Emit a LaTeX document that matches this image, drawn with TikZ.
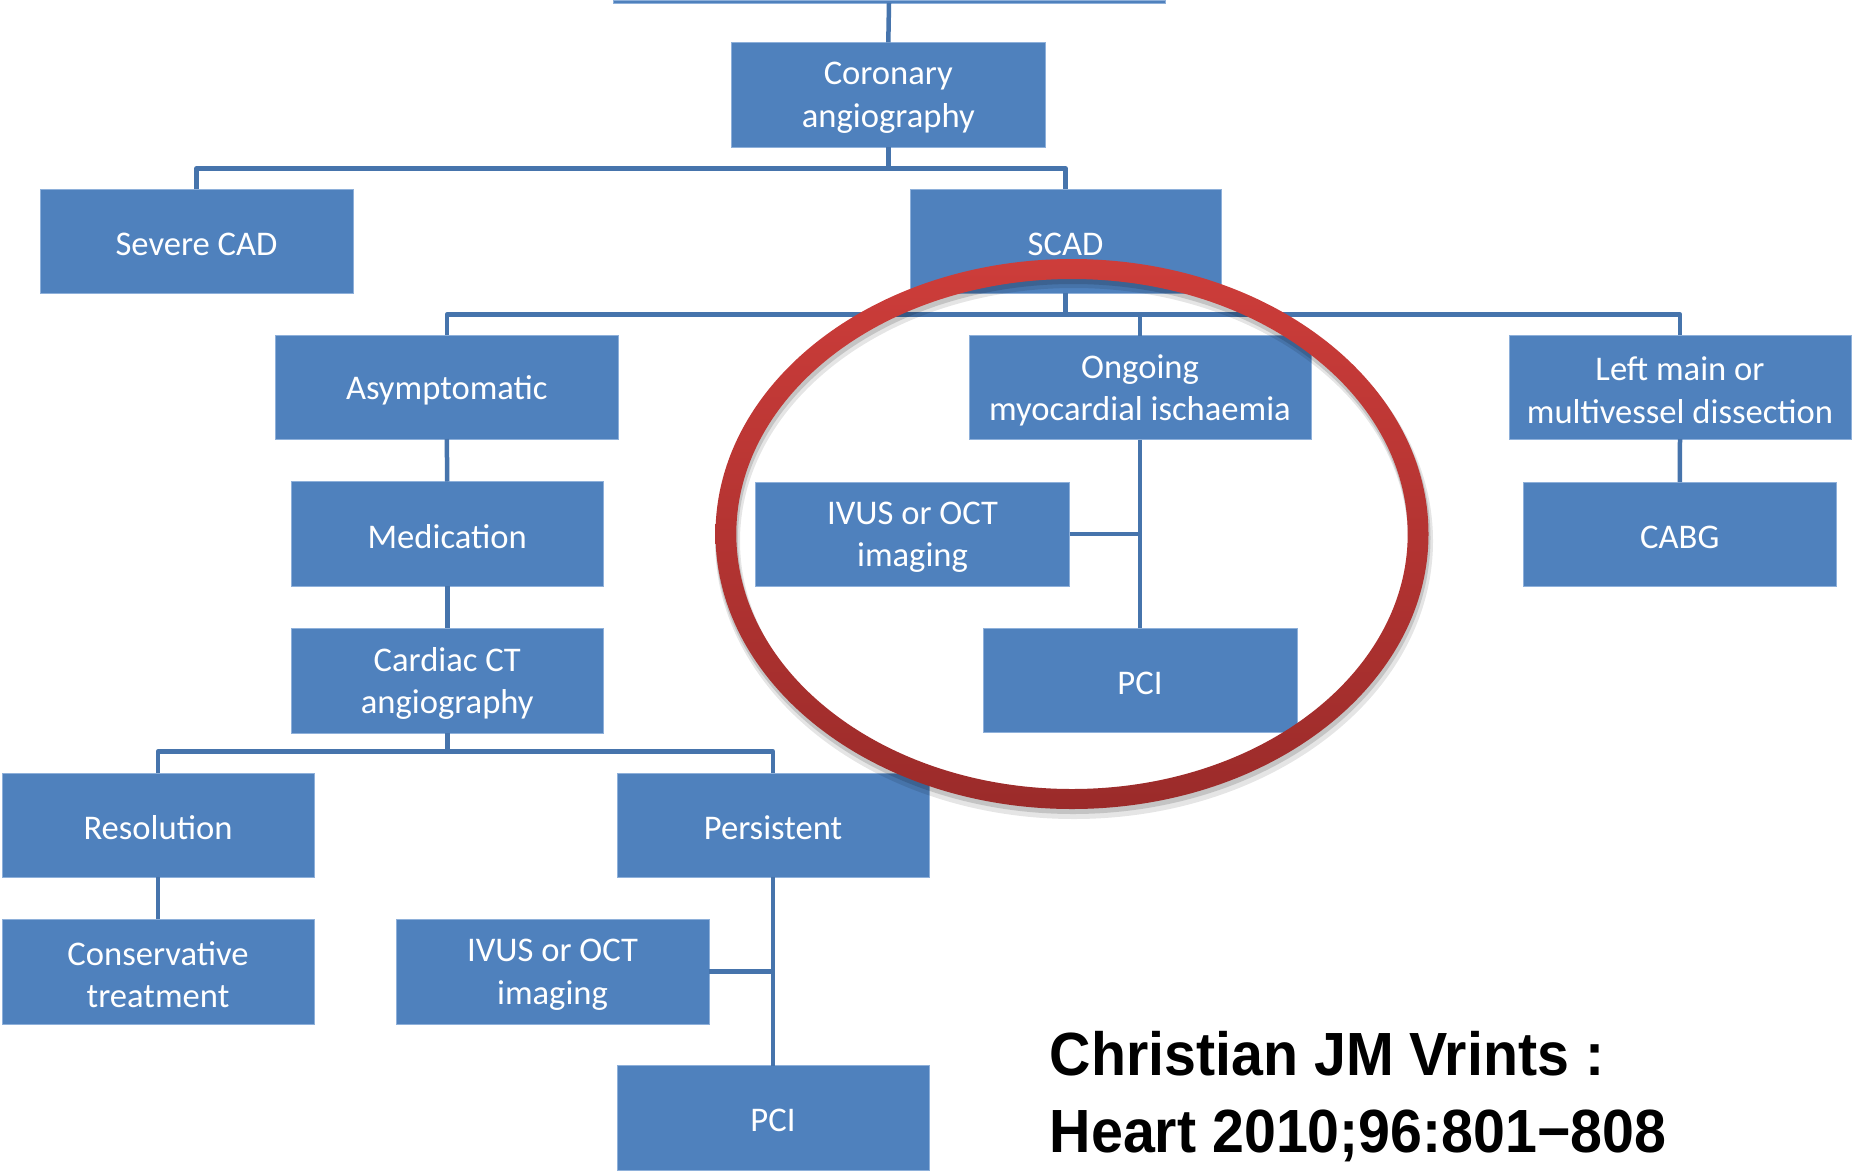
\documentclass[tikz,border=0pt]{standalone}
\usepackage{fontspec}
\setmainfont{Carlito}
\newfontfamily\citefont[FakeStretch=0.94]{Liberation Sans}
\definecolor{boxblue}{HTML}{4F81BD}
\definecolor{boxedge}{HTML}{8EB0DA}
\definecolor{linkblue}{HTML}{4674AC}
\definecolor{ringtop}{HTML}{CD3D3A}
\definecolor{ringbot}{HTML}{9B2B2A}
\newcommand{\bx}[6]{\node[box, minimum width={(#4-#2)*1pt}, minimum height={(#5-#3)*1pt}] (#1) at ({(#2+#4)/2},{(#3+#5)/2}) {};
  \node[boxtext] (#1-t) at ([yshift=-3pt]#1.center) {#6};}
\begin{document}
\begin{tikzpicture}[x=1pt,y=-1pt,
  box/.style={fill=boxblue, draw=boxedge, line width=0.8pt, inner sep=0pt, outer sep=0pt},
  boxtext/.style={text=white, align=center, inner sep=0pt, font=\fontsize{34.6}{42.5}\selectfont},
  link/.style={draw=linkblue, line width=4.5pt, line join=round}]
\useasboundingbox[fill=white] (0,0) rectangle (1853,1171);

% boxes
\node[box, minimum width=552pt, minimum height=3pt] (topbox) at (889,1.5) {};
\bx{coronary}{731.6}{42.3}{1045}{147}{Coronary\\angiography}
\bx{severe}{40}{189}{353}{293}{Severe CAD}
\bx{scad}{910}{189}{1221}{293}{SCAD}
\bx{asym}{275}{335}{618.6}{439}{Asymptomatic}
\bx{ongoing}{969}{335.5}{1311}{439.5}{Ongoing\\myocardial ischaemia}
\bx{leftmain}{1509}{335}{1851}{439}{Left main or\\multivessel dissection}
\bx{med}{291}{481.5}{603.5}{586}{Medication}
\bx{cct}{291}{628}{603.5}{733}{Cardiac CT\\angiography}
\bx{ivusA}{755.5}{482}{1069.5}{586}{IVUS or OCT\\imaging}
\bx{pciA}{983}{628}{1297}{732.5}{PCI}
\bx{cabg}{1523}{482}{1836.5}{586}{CABG}
\bx{resol}{2}{773}{314}{877}{Resolution}
\bx{persist}{617}{773}{929}{877}{Persistent}
\bx{conserv}{2}{919}{314}{1024}{Conservative\\treatment}
\bx{ivusB}{396}{919}{709}{1024}{IVUS or OCT\\imaging}
\bx{pciB}{617}{1065.5}{929}{1170}{PCI}

% connectors
\coordinate (barA) at (0,168.5);
\coordinate (barB) at (0,314.5);
\coordinate (barC) at (0,751.7);
\draw[link] (topbox.south) -- (coronary.north);
\draw[link] (coronary.south) -- (coronary.south |- barA);
\draw[link] (severe.north) -- (severe.north |- barA) -- (scad.north |- barA) -- (scad.north);
\draw[link] (scad.south) -- (scad.south |- barB);
\draw[link] (asym.north) -- (asym.north |- barB) -- (leftmain.north |- barB) -- (leftmain.north);
\draw[link] (ongoing.north |- barB) -- (ongoing.north);
\draw[link] (asym.south) -- (med.north);
\draw[link] (med.south) -- (cct.north);
\draw[link] (cct.south) -- (cct.south |- barC);
\draw[link] (resol.north) -- (resol.north |- barC) -- (persist.north |- barC) -- (persist.north);
\draw[link] (resol.south) -- (conserv.north);
\draw[link] (persist.south) -- (pciB.north);
\draw[link] (ivusB.east) -- (persist.south |- ivusB.east);
\draw[link] (ongoing.south) -- (pciA.north);
\draw[link] (ivusA.east) -- (ongoing.south |- ivusA.east);
\draw[link] (leftmain.south) -- (cabg.north);

% red ring with soft shadow
\fill[black, opacity=0.10, even odd rule] (1074,541) ellipse [x radius=359pt, y radius=278pt] (1074,541) ellipse [x radius=334pt, y radius=253pt];
\fill[black, opacity=0.14, even odd rule] (1073,538) ellipse [x radius=357.5pt, y radius=276pt] (1073,538) ellipse [x radius=335pt, y radius=254pt];
\shade[top color=ringtop, bottom color=ringbot, even odd rule] (1072,534) ellipse [x radius=356.5pt, y radius=275pt] (1072,534) ellipse [x radius=335.7pt, y radius=255pt];

% citation
\node[anchor=base west, inner sep=0pt, font=\citefont\bfseries\fontsize{61}{76}\selectfont] (citeA) at (1049.6,1075.7) {Christian JM Vrints :};
\node[anchor=base west, inner sep=0pt, font=\citefont\bfseries\fontsize{61}{76}\selectfont] (citeB) at (1049.6,1152) {Heart 2010;96:801−808};
\end{tikzpicture}
\end{document}
